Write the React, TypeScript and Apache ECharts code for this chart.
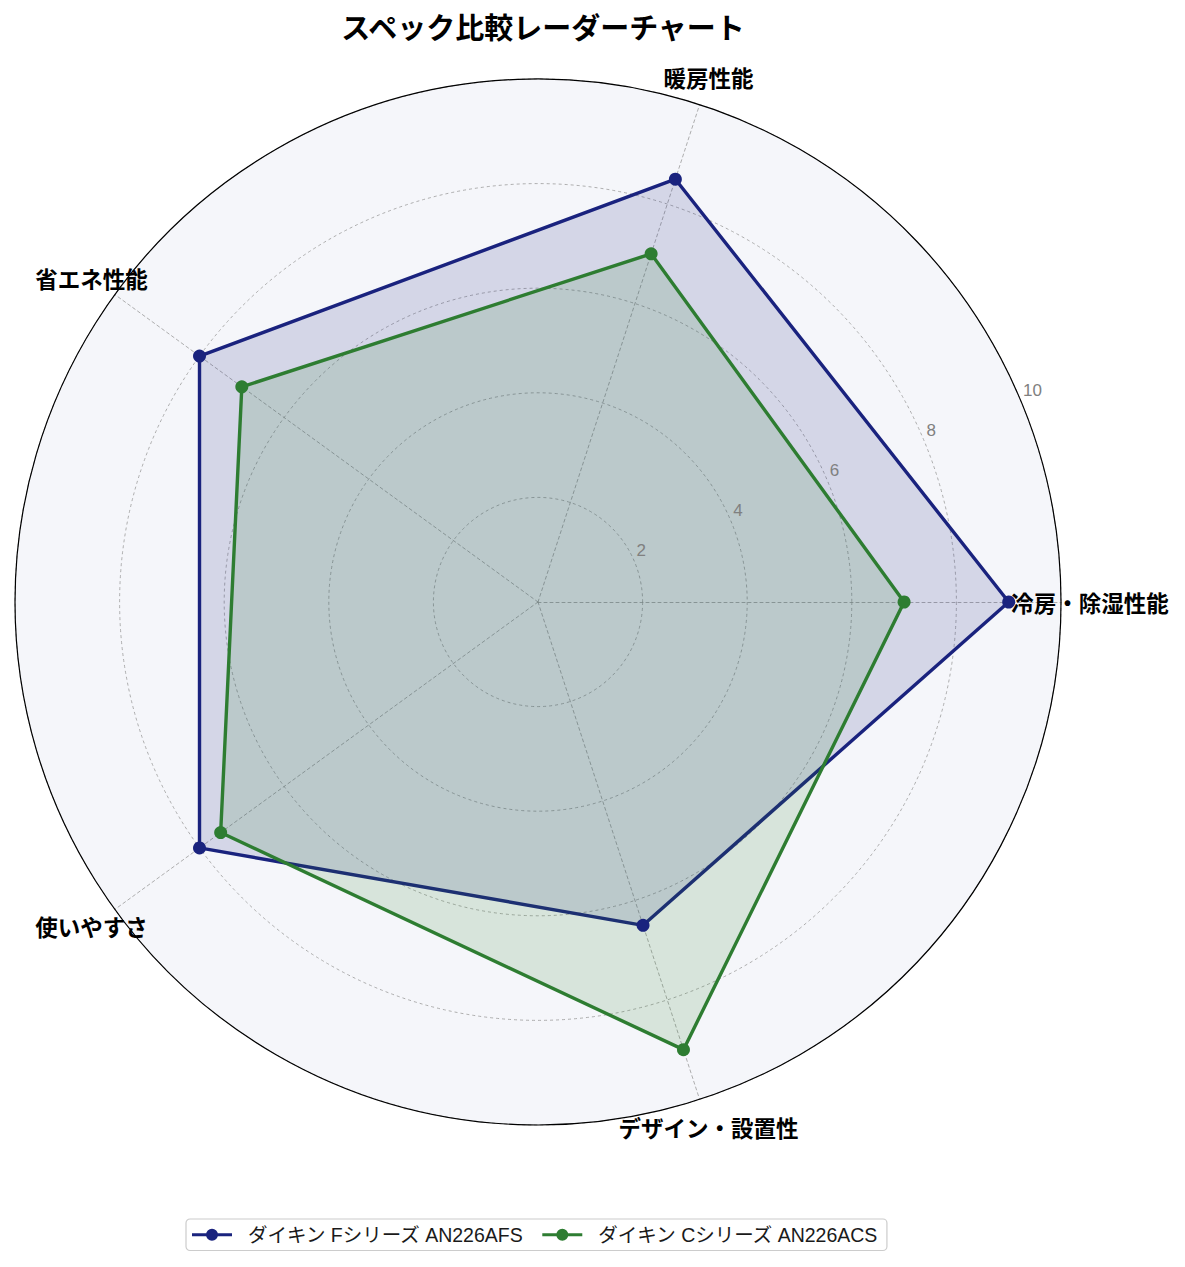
import * as echarts from 'echarts';
import { useEffect, useRef } from 'react';

const FONT = '"Noto Sans CJK JP", "Noto Sans", sans-serif';
const MIXED_FONT = '"Liberation Sans", "Noto Sans CJK JP", sans-serif';

// 評価項目
const indicators = ['冷房・除湿性能', '暖房性能', '省エネ性能', '使いやすさ', 'デザイン・設置性'];

// 各モデルのスコア
const seriesNames = ['ダイキン Fシリーズ AN226AFS', 'ダイキン Cシリーズ AN226ACS'];
const fScores = [9, 8.5, 8, 8, 6.5];
const cScores = [7, 7, 7, 7.5, 9];
const seriesColors = ['#1a237e', '#2e7d32'];

// 目盛り
const scoreMax = 10;
const tickStep = 2;

const legendIcon =
  'path://M0,5.5L40,5.5L40,8.5L0,8.5Z M14,7A6,6 0 1 1 26,7A6,6 0 1 1 14,7Z';

const CENTER: [number, number] = [538, 602];
const RADIUS = 523;

const getOptions = (): echarts.EChartsOption => ({
  animation: false,
  textStyle: { fontFamily: FONT },
  title: {
    text: 'スペック比較レーダーチャート',
    left: CENTER[0],
    textAlign: 'center',
    top: 6,
    textStyle: { fontFamily: FONT, fontSize: 29, fontWeight: 'bold', color: '#000' },
  },
  legend: {
    left: 186,
    top: 1219,
    orient: 'horizontal',
    itemWidth: 40,
    itemHeight: 14,
    itemGap: 18,
    padding: [6, 8, 6, 6],
    borderColor: '#cccccc',
    borderWidth: 1.2,
    borderRadius: 4,
    textStyle: {
      fontFamily: MIXED_FONT,
      fontSize: 19.5,
      color: '#1a1a1a',
      padding: [0, 0, 0, 11],
    },
    data: seriesNames.map((name, i) => ({
      name,
      icon: legendIcon,
      itemStyle: { color: seriesColors[i] },
    })),
  },
  radar: {
    center: CENTER,
    radius: RADIUS,
    startAngle: 0,
    shape: 'circle',
    splitNumber: scoreMax / tickStep,
    indicator: indicators.map(name => ({ name, min: 0, max: scoreMax })),
    nameGap: 29,
    axisName: {
      color: '#000',
      fontFamily: FONT,
      fontSize: 22.5,
      fontWeight: 'bold',
      align: 'center',
      verticalAlign: 'middle',
    } as any,
    axisLine: { lineStyle: { color: '#9a9a9a', type: [3, 3], width: 0.8 } },
    splitLine: { lineStyle: { color: '#9a9a9a', type: [3, 3], width: 0.8 } },
    splitArea: { areaStyle: { color: ['#f5f6fa'] } },
    axisLabel: { show: false },
  },
  polar: { center: CENTER, radius: RADIUS },
  angleAxis: {
    type: 'value',
    min: 0,
    max: 360,
    startAngle: 22.5,
    z: 5,
    axisLine: { lineStyle: { color: '#000', width: 1.2 } },
    axisTick: { show: false },
    axisLabel: { show: false },
    splitLine: { show: false },
  },
  radiusAxis: {
    type: 'value',
    min: 0,
    max: scoreMax,
    interval: tickStep,
    z: 5,
    axisLine: { show: false },
    axisTick: { show: false },
    splitLine: { show: false },
    axisLabel: {
      color: '#808080',
      fontSize: 17,
      fontFamily: MIXED_FONT,
      margin: 3,
      align: 'left',
      verticalAlign: 'bottom',
      padding: [0, 0, 0, 3],
      formatter: (v: number) => (v === 0 ? '' : String(v)),
    },
  },
  series: [fScores, cScores].map((scores, i) => ({
    name: seriesNames[i],
    type: 'radar',
    symbol: 'circle',
    symbolSize: 13,
    z: 3,
    itemStyle: { color: seriesColors[i] },
    lineStyle: { color: seriesColors[i], width: 3.4 },
    areaStyle: { color: seriesColors[i], opacity: 0.15 },
    data: [{ name: seriesNames[i], value: scores }],
  })) as any,
});

export default function App() {
  const chartRef = useRef<HTMLDivElement>(null);

  useEffect(() => {
    document.body.style.margin = '0';
    if (!chartRef.current) return;
    const chart = echarts.init(chartRef.current, undefined, { renderer: 'svg' });
    chart.setOption(getOptions());
    return () => {
      chart.dispose();
    };
  }, []);

  return <div ref={chartRef} style={{ width: 1185, height: 1267, background: '#fff' }} />;
}
